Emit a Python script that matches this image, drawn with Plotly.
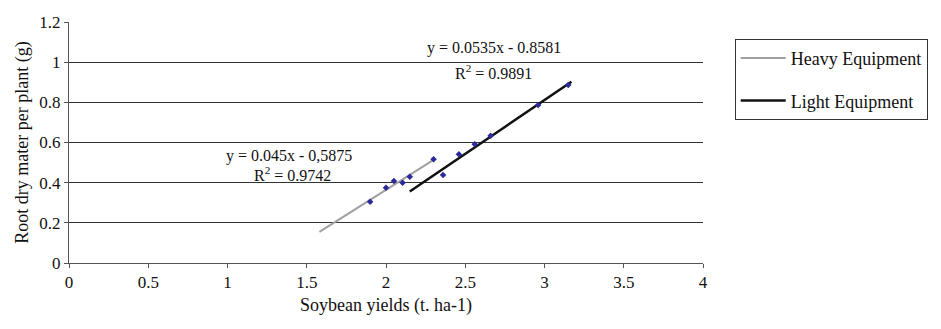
import numpy as np
import plotly.graph_objects as go

# Data
heavy_x = [1.90, 2.00, 2.05, 2.105, 2.15, 2.30]
heavy_y = [0.305, 0.375, 0.408, 0.400, 0.430, 0.517]
light_x = [2.36, 2.46, 2.56, 2.66, 2.96, 3.15]
light_y = [0.438, 0.541, 0.591, 0.634, 0.787, 0.886]

# Trendline spans (as drawn in the original, heavy extended backwards)
heavy_trend_x = [1.58, 2.30]
light_trend_x = [2.15, 3.17]

heavy_eq = ["y = 0.045x - 0,5875", "R<sup>2</sup> = 0.9742"]
light_eq = ["y = 0.0535x - 0.8581", "R<sup>2</sup> = 0.9891"]

x_ticks = [0, 0.5, 1, 1.5, 2, 2.5, 3, 3.5, 4]
x_tick_labels = ["0", "0.5", "1", "1.5", "2", "2.5", "3", "3.5", "4"]
y_ticks = [0, 0.2, 0.4, 0.6, 0.8, 1, 1.2]
y_tick_labels = ["0", "0.2", "0.4", "0.6", "0.8", "1", "1.2"]

FONT = "Liberation Serif"

hc = np.polyfit(heavy_x, heavy_y, 1)
lc = np.polyfit(light_x, light_y, 1)
htx = np.array(heavy_trend_x)
ltx = np.array(light_trend_x)

fig = go.Figure()
fig.add_trace(go.Scatter(x=htx, y=np.polyval(hc, htx), mode="lines",
                         line=dict(color="#a0a0a0", width=2),
                         name="Heavy Equipment", legendgroup="h"))
fig.add_trace(go.Scatter(x=ltx, y=np.polyval(lc, ltx), mode="lines",
                         line=dict(color="#111111", width=2.5),
                         name="Light Equipment", legendgroup="l"))
fig.add_trace(go.Scatter(x=heavy_x, y=heavy_y, mode="markers",
                         marker=dict(symbol="diamond", size=5, color="#2a2a9a"),
                         showlegend=False))
fig.add_trace(go.Scatter(x=light_x, y=light_y, mode="markers",
                         marker=dict(symbol="diamond", size=5, color="#2a2a9a"),
                         showlegend=False))

ann_font = dict(family=FONT, size=16, color="#111")
fig.add_annotation(x=1.39, y=0.535, text=heavy_eq[0], showarrow=False, font=ann_font)
fig.add_annotation(x=1.41, y=0.445, text=heavy_eq[1], showarrow=False, font=ann_font)
fig.add_annotation(x=2.68, y=1.07, text=light_eq[0], showarrow=False, font=ann_font)
fig.add_annotation(x=2.68, y=0.95, text=light_eq[1], showarrow=False, font=ann_font)

fig.update_layout(
    width=941, height=329,
    margin=dict(l=69, r=238, t=22, b=66),
    paper_bgcolor="white", plot_bgcolor="white",
    font=dict(family=FONT, size=17, color="#111"),
    showlegend=True,
    legend=dict(x=1.05, y=0.93, xanchor="left", yanchor="top",
                bordercolor="#333", borderwidth=1, bgcolor="white",
                font=dict(family=FONT, size=18, color="#111"),
                tracegroupgap=16, itemwidth=45, entrywidth=175),
    xaxis=dict(range=[0, 4], tickvals=x_ticks, ticktext=x_tick_labels,
               showgrid=False, zeroline=False, showline=True,
               linecolor="#555", linewidth=1, ticks="outside", ticklen=4,
               tickcolor="#555", tickfont=dict(family=FONT, size=17),
               title=dict(text="Soybean yields (t. ha-1)", standoff=6,
                          font=dict(family=FONT, size=18))),
    yaxis=dict(range=[0, 1.2], tickvals=y_ticks, ticktext=y_tick_labels,
               showgrid=True, gridcolor="#333", gridwidth=1, zeroline=False,
               showline=True, linecolor="#555", linewidth=1,
               ticks="outside", ticklen=4, tickcolor="#555",
               tickfont=dict(family=FONT, size=17),
               title=dict(text="Root dry mater per plant (g)", standoff=6,
                          font=dict(family=FONT, size=18))),
)

fig.write_html("out.html")
